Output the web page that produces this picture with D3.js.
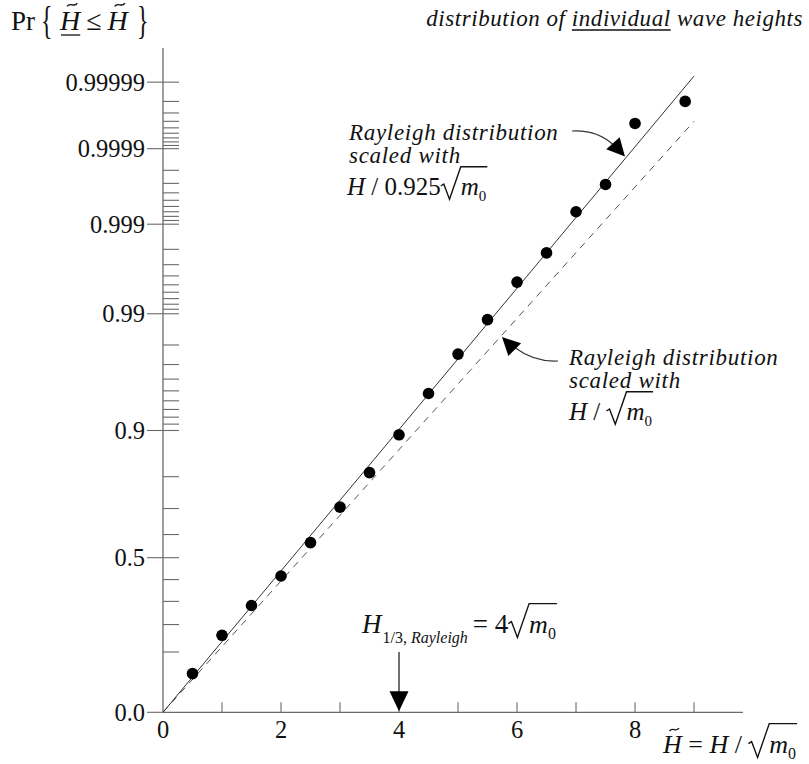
<!DOCTYPE html>
<html><head><meta charset="utf-8">
<script src="https://cdn.jsdelivr.net/npm/d3@7"></script>
<style>body{margin:0;background:#fff}svg{display:block}</style>
</head><body>
<svg id="c" width="809" height="764"></svg>
<script>
// ---- data ----
const waveHeight = [0.5,1.0,1.5,2.0,2.5,3.0,3.5,4.0,4.5,5.0,5.5,6.0,6.5,7.0,7.5,8.0,8.85];
const probNonExceed = [0.0425,0.158,0.2816,0.4165,0.5658,0.7051,0.8108,0.8928,0.9475,0.97577,0.98857,0.99533,0.99780,0.99930,0.99969,0.999957,0.99998];
const lineScaledH = [0, 9.0];
const lineScaledP = [0, 0.999992];      // Rayleigh scaled with H/0.925√m0
const lineStdH = [0, 9.0];
const lineStdP = [0, 0.99996];          // Rayleigh scaled with H/√m0
const yMajorTicks = [0.0,0.5,0.9,0.99,0.999,0.9999,0.99999];
const yMajorLabels = ["0.0","0.5","0.9","0.99","0.999","0.9999","0.99999"];
const yMinorTicks = [0.1,0.2,0.3,0.4,0.6,0.7,0.8,
  0.91,0.92,0.93,0.94,0.95,0.96,0.97,0.98,
  0.991,0.992,0.993,0.994,0.995,0.996,0.997,0.998,
  0.9991,0.9992,0.9993,0.9994,0.9995,0.9996,0.9997,0.9998,
  0.99991,0.99992,0.99993,0.99994,0.99995,0.99996,0.99997,0.99998];
const xTicks = [1,2,3,4,5,6,7,8,9];
const xLabels = [0,2,4,6,8];
const h13 = 4;

// ---- scales ----
const svg = d3.select("#c");
const FONT = "'Liberation Serif','Times New Roman',serif";
const x = d3.scaleLinear().domain([0, 9.83]).range([163, 743]);
const reduced = p => Math.sqrt(-Math.log(1 - p));
const yLin = d3.scaleLinear().domain([0, 3.577]).range([712.3, 48]);
const y = p => yLin(reduced(p));
const AX = "#6a6a6a";

// ---- axes ----
svg.append("line").attr("x1", x(0)).attr("x2", x(0)).attr("y1", yLin.range()[1]).attr("y2", y(0))
  .attr("stroke", AX).attr("stroke-width", 1.3);
svg.append("line").attr("x1", x(0)).attr("x2", x.range()[1]).attr("y1", y(0)).attr("y2", y(0))
  .attr("stroke", AX).attr("stroke-width", 1.3);

svg.append("g").selectAll("line").data(yMinorTicks).join("line")
  .attr("x1", x(0)).attr("x2", x(0) + 16).attr("y1", d => y(d)).attr("y2", d => y(d))
  .attr("stroke", AX).attr("stroke-width", 1.1);
svg.append("g").selectAll("line").data(yMajorTicks).join("line")
  .attr("x1", x(0) - 16).attr("x2", d => d === 0 ? x(0) : x(0) + 16).attr("y1", d => y(d)).attr("y2", d => y(d))
  .attr("stroke", AX).attr("stroke-width", 1.1);
svg.append("g").selectAll("text").data(yMajorTicks).join("text")
  .attr("x", x(0) - 18).attr("y", d => y(d) + 8.5).attr("text-anchor", "end")
  .style("font-family", FONT).style("font-size", "24.5px").attr("fill", "#111")
  .text((d, i) => yMajorLabels[i]);

svg.append("g").selectAll("line").data(xTicks).join("line")
  .attr("x1", d => x(d)).attr("x2", d => x(d)).attr("y1", y(0)).attr("y2", y(0) - 10)
  .attr("stroke", AX).attr("stroke-width", 1.1);
svg.append("g").selectAll("text").data(xLabels).join("text")
  .attr("x", d => x(d)).attr("y", 738).attr("text-anchor", "middle")
  .style("font-family", FONT).style("font-size", "24.5px").attr("fill", "#111")
  .text(d => d);

// ---- lines ----
const line = d3.line().x(d => x(d[0])).y(d => y(d[1]));
svg.append("path").attr("d", line(lineStdH.map((h, i) => [h, lineStdP[i]])))
  .attr("fill", "none").attr("stroke", "#555").attr("stroke-width", 1).attr("stroke-dasharray", "7,6");
svg.append("path").attr("d", line(lineScaledH.map((h, i) => [h, lineScaledP[i]])))
  .attr("fill", "none").attr("stroke", "#333").attr("stroke-width", 1);

// ---- points ----
svg.append("g").selectAll("circle").data(waveHeight).join("circle")
  .attr("cx", d => x(d)).attr("cy", (d, i) => y(probNonExceed[i])).attr("r", 5.8).attr("fill", "#000");

// ---- formula helper ----
function formula(items, tx, ty, anchor) {
  const g = svg.append("g");
  let cx = 0;
  const draw = (list) => {
    for (const it of list) {
      const s = it.s || 24;
      if (it.sqrt) {
        const x0 = cx;
        cx += 0.8 * s;
        draw(it.sqrt);
        cx += 1;
        g.append("path")
          .attr("d", `M${x0},${-0.36*s} L${x0+0.12*s},${-0.44*s} L${x0+0.35*s},${0.17*s} L${x0+0.8*s},${-1.13*s} L${cx},${-1.13*s}`)
          .attr("fill", "none").attr("stroke", "#111").attr("stroke-width", 1.4).attr("stroke-linejoin", "miter");
      } else {
        const t = g.append("text").attr("x", cx).attr("y", it.dy || 0).text(it.t)
          .style("font-family", FONT).style("font-size", s + "px")
          .style("font-style", it.it ? "italic" : "normal")
          .style("letter-spacing", (it.ls || 0) + "px")
          .style("white-space", "pre").attr("fill", "#111");
        const w = t.node().getComputedTextLength();
        if (it.tilde) {
          const c = cx + w * 0.6, tw = 0.36 * s, a = 0.06 * s, yy = -0.9 * s;
          g.append("path")
            .attr("d", `M${c-tw/2},${yy+a} C${c-tw/4},${yy-2*a} ${c+tw/4},${yy+2*a} ${c+tw/2},${yy-a}`)
            .attr("fill", "none").attr("stroke", "#111").attr("stroke-width", 1.3);
        }
        if (it.under) {
          g.append("line").attr("x1", cx + (it.ux0 || 0)).attr("x2", cx + w - (it.ux1 || 0))
            .attr("y1", it.uy || 4).attr("y2", it.uy || 4).attr("stroke", "#111").attr("stroke-width", 1.3);
        }
        cx += w + (it.k || 0);
      }
    }
  };
  draw(items);
  const off = anchor === "end" ? -cx : 0;
  g.attr("transform", `translate(${tx + off},${ty})`);
  return cx;
}

// ---- top-left label ----
svg.append("text").attr("x", 11).attr("y", 30).text("Pr")
  .style("font-family", FONT).style("font-size", "27px").attr("fill", "#111");
svg.append("text").attr("transform", "translate(41,34) scale(1,1.65)").text("{")
  .style("font-family", FONT).style("font-size", "24px").attr("fill", "#111");
svg.append("text").attr("transform", "translate(137,34) scale(1,1.65)").text("}")
  .style("font-family", FONT).style("font-size", "24px").attr("fill", "#111");
formula([
  {t: "H", it: true, s: 28, tilde: true, under: true, uy: 5, ux0: 1, k: 6},
  {t: "≤", s: 28, k: 6},
  {t: "H", it: true, s: 28, tilde: true}
], 60, 30);

// ---- title ----
formula([
  {t: "distribution of ", it: true, s: 23, ls: 0.55},
  {t: "individual", it: true, s: 23, ls: 0.55, under: true, uy: 4},
  {t: " wave heights", it: true, s: 23, ls: 0.55}
], 803, 26, "end");

// ---- annotation 1 (solid line) ----
const ann = (txt, ax, ay) => svg.append("text").attr("x", ax).attr("y", ay).text(txt)
  .style("font-family", FONT).style("font-size", "23px").style("font-style", "italic")
  .style("letter-spacing", "0.7px").attr("fill", "#111");
ann("Rayleigh distribution", 349, 140);
ann("scaled with", 349, 163);
formula([
  {t: "H", it: true, s: 25},
  {t: " / 0.925", s: 25},
  {sqrt: [{t: "m", it: true, s: 25}, {t: "0", s: 15, dy: 6}], s: 25}
], 347, 195);

// ---- annotation 2 (dashed line) ----
ann("Rayleigh distribution", 569, 365);
ann("scaled with", 569, 388);
formula([
  {t: "H", it: true, s: 25},
  {t: " / ", s: 25},
  {sqrt: [{t: "m", it: true, s: 25}, {t: "0", s: 15, dy: 6}], s: 25}
], 569, 420);

// ---- H1/3 annotation ----
formula([
  {t: "H", it: true, s: 27, k: 1},
  {t: "1/3, ", s: 16, dy: 10},
  {t: "Rayleigh", it: true, s: 16, dy: 10, k: 5},
  {t: "= 4", s: 27},
  {sqrt: [{t: "m", it: true, s: 26}, {t: "0", s: 16, dy: 6}], s: 26}
], 362, 633);

// ---- x-axis title ----
formula([
  {t: "H", it: true, s: 26, tilde: true},
  {t: " = ", s: 26},
  {t: "H", it: true, s: 26},
  {t: " / ", s: 26},
  {sqrt: [{t: "m", it: true, s: 26}, {t: "0", s: 16, dy: 6}], s: 26}
], 663, 753);

// ---- arrows ----
function arrowHead(tipX, tipY, angleDeg, len, wid) {
  const a = angleDeg * Math.PI / 180;
  const bx = tipX - len * Math.cos(a), by = tipY - len * Math.sin(a);
  const px = -Math.sin(a) * wid / 2, py = Math.cos(a) * wid / 2;
  svg.append("path").attr("d", `M${tipX},${tipY} L${bx+px},${by+py} L${bx-px},${by-py} Z`).attr("fill", "#000");
}
// to solid line
const t1x = x(7.83), t1y = y(1 - Math.exp(-Math.pow(7.83 * 0.3822, 2)));
svg.append("path").attr("d", `M572,131 C590,130 604,136 ${t1x - 11},${t1y - 11}`)
  .attr("fill", "none").attr("stroke", "#333").attr("stroke-width", 1.1);
arrowHead(t1x, t1y, 48, 18, 18);
// to dashed line
svg.append("path").attr("d", "M558,361 C540,362 526,356 514,347")
  .attr("fill", "none").attr("stroke", "#333").attr("stroke-width", 1.1);
arrowHead(502, 337, 225, 18, 18);
// H1/3 arrow
svg.append("line").attr("x1", x(h13)).attr("x2", x(h13)).attr("y1", 652).attr("y2", 694)
  .attr("stroke", "#111").attr("stroke-width", 1.2);
arrowHead(x(h13), y(0) - 1, 90, 20, 19);
</script>
</body></html>
